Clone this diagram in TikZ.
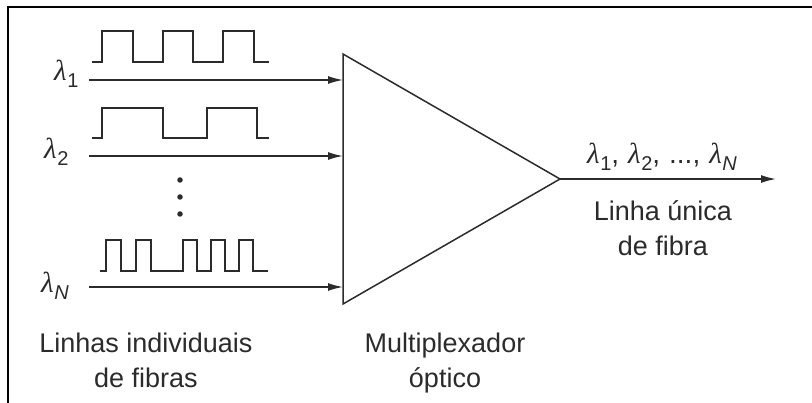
\documentclass[tikz,border=0pt]{standalone}
\usepackage{fontspec}
\setmainfont{Liberation Sans}
\newfontfamily\lamserif{Liberation Serif}
\usetikzlibrary{arrows.meta}
\definecolor{ink}{HTML}{2B2B2B}
\newcommand\lamb[1]{{\lamserif\itshape\fontsize{29}{29}\selectfont λ}\kern0.5pt\raisebox{-7pt}{\fontsize{20}{20}\selectfont #1}}
\tikzset{
  frameline/.style={line width=2.2pt, black},
  wave/.style={line width=1.6pt, ink, line join=miter},
  fiber/.style={line width=1.5pt, ink, -{Latex[length=15pt,width=8pt]}},
  mux/.style={line width=1.5pt, ink, line join=miter},
  lbl/.style={inner sep=0pt, text=ink},
  captext/.style={inner sep=0pt, text=ink, align=center, font=\fontsize{27}{35}\selectfont},
  dotmark/.style={circle, fill=ink, inner sep=0pt, minimum size=5.5pt}
}
\begin{document}
\begin{tikzpicture}[x=1pt,y=-1pt]
\useasboundingbox (0,0) rectangle (812,403);
% frame
\coordinate (fr) at (812,7);
\coordinate (fc) at (8,7);
\coordinate (fb) at (8,403);
\draw[frameline] (fr) -- (fc) -- (fb);
% multiplexer triangle
\coordinate (tl) at (343,54);
\coordinate (bl) at (343,304);
\coordinate (apex) at (560,179);
\draw[mux] (tl) -- (apex) -- (bl) -- cycle;
% input fibres
\coordinate (s1) at (89,80);   \coordinate (e1) at (343,80);
\coordinate (s2) at (89,156);  \coordinate (e2) at (343,156);
\coordinate (sN) at (89,287);  \coordinate (eN) at (343,287);
\draw[fiber] (s1) -- (e1);
\draw[fiber] (s2) -- (e2);
\draw[fiber] (sN) -- (eN);
% output fibre
\coordinate (out) at (776,179);
\draw[fiber] (apex) -- (out);
% pulse trains
\draw[wave] (92,62) -- (102,62) -- (102,31) -- (133,31) -- (133,62) -- (163,62) -- (163,31) -- (193,31) -- (193,62) -- (223,62) -- (223,31) -- (254,31) -- (254,62) -- (269,62);
\draw[wave] (92,138) -- (102,138) -- (102,108) -- (163,108) -- (163,138) -- (207,138) -- (207,108) -- (257,108) -- (257,138) -- (269,138);
\draw[wave] (100,271) -- (106,271) -- (106,240) -- (121,240) -- (121,271) -- (136,271) -- (136,240) -- (151,240) -- (151,271) -- (183,271) -- (183,240) -- (197,240) -- (197,271) -- (211,271) -- (211,240) -- (225,240) -- (225,271) -- (239,271) -- (239,240) -- (253,240) -- (253,271) -- (268,271);
% dots
\node[dotmark] (d1) at (180,180) {};
\node[dotmark] (d2) at (180,197) {};
\node[dotmark] (d3) at (180,214) {};
% lambda labels
\node[lbl, anchor=base west] (l1) at (54,81) {\lamb{1}};
\node[lbl, anchor=base west] (l2) at (44,159) {\lamb{2}};
\node[lbl, anchor=base west] (lN) at (41,293) {\lamb{\itshape N}};
\node[lbl, anchor=base, font=\fontsize{28}{28}\selectfont] (lout) at (662,164) {\lamb{1},\hspace{9pt}\lamb{2},\hspace{9pt}...,\hspace{9pt}\lamb{\itshape N}};
% captions
\node[captext, anchor=north] (cin) at (146,333) {Linhas individuais\\de fibras};
\node[captext, anchor=north] (cmux) at (445,333) {Multiplexador\\óptico};
\node[captext, anchor=north] (cout) at (663,200) {Linha única\\de fibra};
\end{tikzpicture}
\end{document}
